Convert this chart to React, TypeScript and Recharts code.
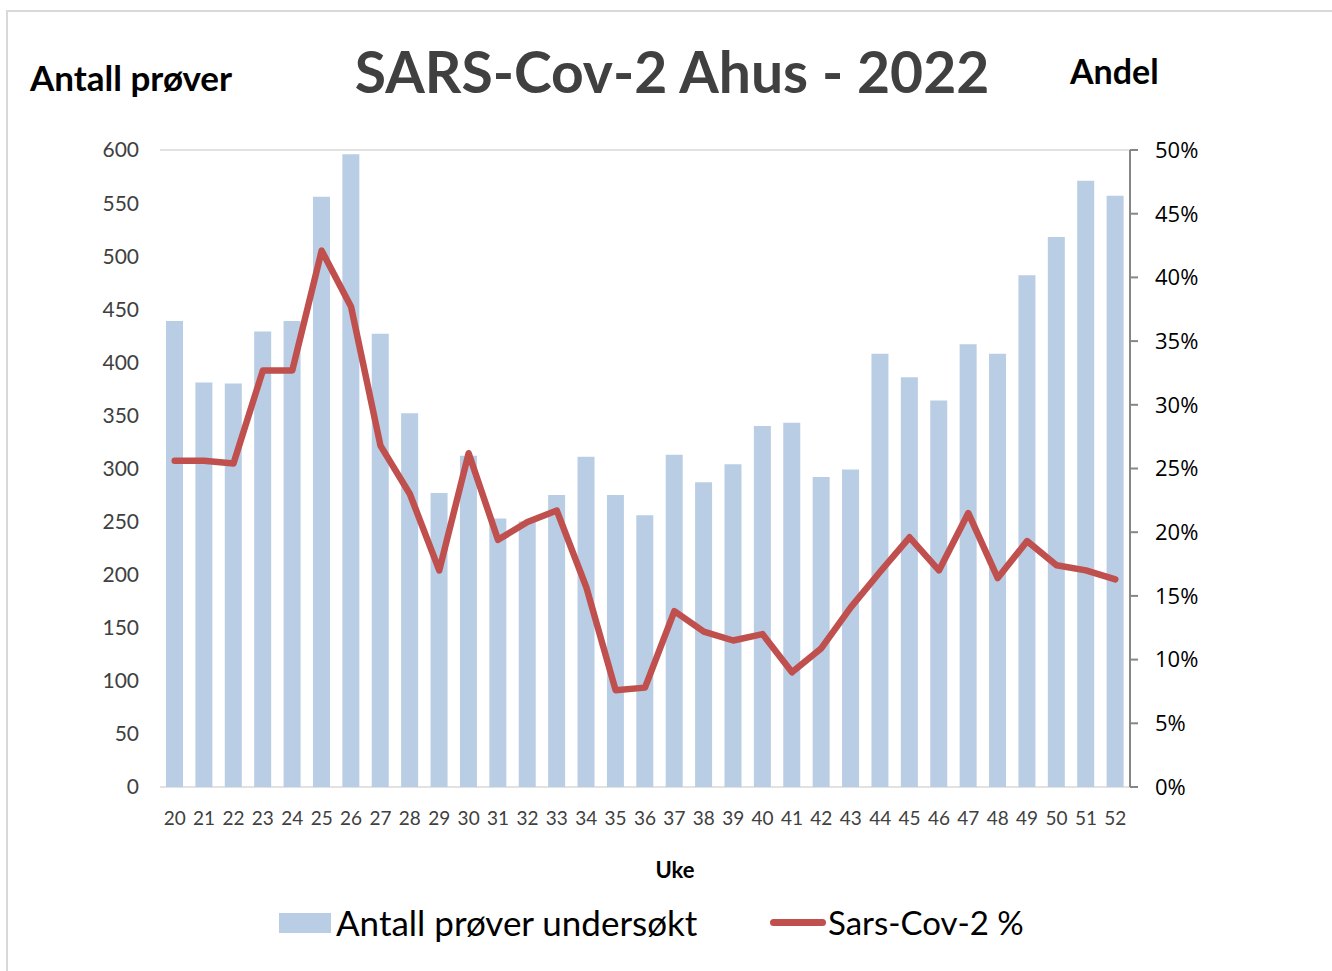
import React from 'react';
import { ComposedChart, Bar, Line, XAxis, YAxis, CartesianGrid } from 'recharts';

const weeks = ['20','21','22','23','24','25','26','27','28','29','30','31','32','33','34','35','36','37','38','39','40','41','42','43','44','45','46','47','48','49','50','51','52'];
const samples = [439,381,380,429,439,556,596,427,352,277,312,253,250,275,311,275,256,313,287,304,340,343,292,299,408,386,364,417,408,482,518,571,557];
const positivePct = [25.6,25.6,25.4,32.7,32.7,42.1,37.7,26.8,23.0,17.0,26.2,19.4,20.8,21.7,15.7,7.6,7.8,13.8,12.2,11.5,12.0,9.0,10.9,14.1,16.9,19.6,17.0,21.5,16.4,19.3,17.4,17.0,16.3];
const leftTicks = [0,50,100,150,200,250,300,350,400,450,500,550,600];
const rightTicks = [0,5,10,15,20,25,30,35,40,45,50];

const data = weeks.map((w, i) => ({ week: w, samples: samples[i], pct: positivePct[i] }));

const FONT = 'Lato, "Open Sans", sans-serif';

export default function App() {
  return (
    <div style={{ position: 'absolute', left: 0, top: 0, width: 1332, height: 971, background: '#fff', overflow: 'hidden', fontFamily: FONT }}>
      <div style={{ position: 'absolute', left: 6, top: 10, width: 1400, height: 1000, borderTop: '2px solid #d9d9d9', borderLeft: '2px solid #d9d9d9' }} />
      <ComposedChart
        width={1332}
        height={971}
        data={data}
        margin={{ top: 150, right: 102, bottom: 144, left: 0 }}
        barCategoryGap={0}
      >
        <CartesianGrid vertical={false} stroke="#d9d9d9" strokeWidth={1.5} />
        <XAxis
          dataKey="week"
          interval={0}
          axisLine={false}
          tickLine={false}
          tickSize={6}
          tickMargin={19}
          height={40}
          tick={{ fill: '#404040', fontSize: 19, fontFamily: FONT }}
        />
        <YAxis
          yAxisId="left"
          orientation="left"
          width={160}
          domain={[0, 600]}
          ticks={leftTicks}
          interval={0}
          axisLine={false}
          tickLine={false}
          tickSize={6}
          tickMargin={15}
          tick={{ fill: '#404040', fontSize: 21, fontFamily: FONT }}
        />
        <YAxis
          yAxisId="right"
          orientation="right"
          width={100}
          domain={[0, 50]}
          ticks={rightTicks}
          interval={0}
          axisLine={{ stroke: '#868686', strokeWidth: 2 }}
          tickLine={{ stroke: '#868686', strokeWidth: 2 }}
          tickSize={8}
          tickMargin={17}
          tickFormatter={(v: number) => `${v}%`}
          tick={{ fill: '#000', fontSize: 22, fontFamily: '"Open Sans", sans-serif' }}
        />
        <Bar yAxisId="left" dataKey="samples" fill="#b9cde5" barSize={17} isAnimationActive={false} />
        <Line
          yAxisId="right"
          dataKey="pct"
          stroke="#c0504d"
          strokeWidth={6.5}
          dot={false}
          strokeLinecap="round"
          strokeLinejoin="round"
          type="linear"
          isAnimationActive={false}
        />
      </ComposedChart>

      <div style={{ position: 'absolute', left: 0, width: 1332, top: 36, textAlign: 'center', paddingLeft: 12, boxSizing: 'border-box', fontSize: 57, fontWeight: 700, color: '#404040', lineHeight: '70px' }}>
        SARS-Cov-2 Ahus - 2022
      </div>
      <div style={{ position: 'absolute', left: 30, top: 57, fontSize: 35, fontWeight: 700, color: '#000', lineHeight: '40px', whiteSpace: 'nowrap' }}>
        Antall prøver
      </div>
      <div style={{ position: 'absolute', left: 1070, top: 51, fontSize: 34, fontWeight: 700, color: '#000', lineHeight: '40px' }}>
        Andel
      </div>
      <div style={{ position: 'absolute', left: 0, width: 1332, top: 856, textAlign: 'center', paddingLeft: 18, boxSizing: 'border-box', fontSize: 22, fontWeight: 700, color: '#000', lineHeight: '28px' }}>
        Uke
      </div>

      <div style={{ position: 'absolute', left: 279, top: 913, width: 52, height: 20, background: '#b9cde5' }} />
      <div style={{ position: 'absolute', left: 336, top: 901, fontSize: 35, color: '#000', lineHeight: '42px', whiteSpace: 'nowrap' }}>
        Antall prøver undersøkt
      </div>
      <div style={{ position: 'absolute', left: 770, top: 919, width: 56, height: 7, borderRadius: 4, background: '#c0504d' }} />
      <div style={{ position: 'absolute', left: 828, top: 902, fontSize: 33, color: '#000', lineHeight: '40px', whiteSpace: 'nowrap' }}>
        Sars-Cov-2 %
      </div>
    </div>
  );
}
